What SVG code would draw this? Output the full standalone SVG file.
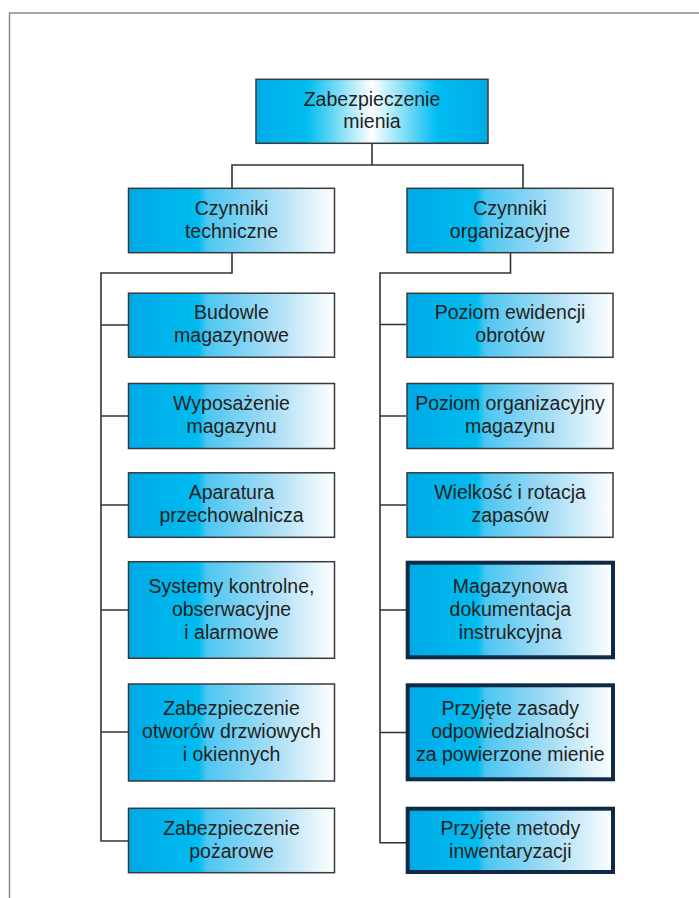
<svg xmlns="http://www.w3.org/2000/svg" width="699" height="898" viewBox="0 0 699 898">
  <defs>
    <linearGradient id="gSide" x1="0" y1="0" x2="1" y2="0">
      <stop offset="0" stop-color="#00a9e6"/>
      <stop offset="0.34" stop-color="#00bcf0"/>
      <stop offset="0.38" stop-color="#4cc6f1"/>
      <stop offset="0.7" stop-color="#a8ddf5"/>
      <stop offset="1" stop-color="#ffffff"/>
    </linearGradient>
    <linearGradient id="gTop" x1="0" y1="0" x2="1" y2="0">
      <stop offset="0" stop-color="#00ace8"/>
      <stop offset="0.22" stop-color="#00bcf0"/>
      <stop offset="0.5" stop-color="#ffffff"/>
      <stop offset="0.78" stop-color="#00bcf0"/>
      <stop offset="1" stop-color="#00ace8"/>
    </linearGradient>
  </defs>
  <style>
    .box { fill: url(#gSide); stroke: #3a3a3a; stroke-width: 1.5; }
    .top { fill: url(#gTop); stroke: #3a3a3a; stroke-width: 1.5; }
    .thick { fill: url(#gSide); stroke: #0e2a44; stroke-width: 4; }
    .lbl { font-family: "Liberation Sans", Arial, sans-serif; font-size: 19.5px; fill: #231f20; text-anchor: middle; }
    .conn { fill: none; stroke: #333333; stroke-width: 1.6; }
    .frame { fill: none; stroke: #8a8a8a; stroke-width: 1.5; }
  </style>
  <rect width="699" height="898" fill="#ffffff"/>
  <path class="frame" d="M9.5,898 V13 H699"/>

  <g id="connectors">
    <path class="conn" d="M372,143.3 V165 M232,188.3 V165 H523 V188.3"/>
    <path class="conn" d="M232,252.7 V273 H101 V841 H128.5 M101,325 H128.5 M101,416 H128.5 M101,505 H128.5 M101,610 H128.5 M101,732 H128.5"/>
    <path class="conn" d="M510.5,252.7 V273 H380 V842.7 H406 M380,324.5 H406 M380,416 H406 M380,505 H406 M380,610 H406 M380,732.5 H406"/>
  </g>

  <g id="n-root">
    <rect class="top" x="256" y="79.3" width="232" height="64"/>
    <text class="lbl" x="372" y="105.5">Zabezpieczenie</text>
    <text class="lbl" x="372" y="128">mienia</text>
  </g>

  <g id="n-tech">
    <rect class="box" x="128.5" y="188.3" width="206" height="64.4"/>
    <text class="lbl" x="231.5" y="214.5">Czynniki</text>
    <text class="lbl" x="231.5" y="237.5">techniczne</text>
  </g>
  <g id="n-org">
    <rect class="box" x="407" y="188.3" width="206" height="64.4"/>
    <text class="lbl" x="510" y="214.5">Czynniki</text>
    <text class="lbl" x="510" y="237.5">organizacyjne</text>
  </g>

  <g id="n-budowle">
    <rect class="box" x="128.5" y="293.2" width="206" height="64"/>
    <text class="lbl" x="231.5" y="319.2">Budowle</text>
    <text class="lbl" x="231.5" y="342.2">magazynowe</text>
  </g>
  <g id="n-wyposazenie">
    <rect class="box" x="128.5" y="383.5" width="206" height="65"/>
    <text class="lbl" x="231.5" y="410.2">Wyposażenie</text>
    <text class="lbl" x="231.5" y="433.2">magazynu</text>
  </g>
  <g id="n-aparatura">
    <rect class="box" x="128.5" y="472.8" width="206" height="64.5"/>
    <text class="lbl" x="231.5" y="499.2">Aparatura</text>
    <text class="lbl" x="231.5" y="522.2">przechowalnicza</text>
  </g>
  <g id="n-systemy">
    <rect class="box" x="128.5" y="561.7" width="206" height="96.6"/>
    <text class="lbl" x="231.5" y="592.7">Systemy kontrolne,</text>
    <text class="lbl" x="231.5" y="615.7">obserwacyjne</text>
    <text class="lbl" x="231.5" y="638.7">i alarmowe</text>
  </g>
  <g id="n-otwory">
    <rect class="box" x="128.5" y="684" width="206" height="97"/>
    <text class="lbl" x="231.5" y="715.2">Zabezpieczenie</text>
    <text class="lbl" x="231.5" y="738.2">otworów drzwiowych</text>
    <text class="lbl" x="231.5" y="761.2">i okiennych</text>
  </g>
  <g id="n-pozarowe">
    <rect class="box" x="128.5" y="808.3" width="206" height="64.4"/>
    <text class="lbl" x="231.5" y="834.7">Zabezpieczenie</text>
    <text class="lbl" x="231.5" y="857.7">pożarowe</text>
  </g>

  <g id="n-ewidencja">
    <rect class="box" x="407" y="293.3" width="206" height="64"/>
    <text class="lbl" x="510" y="319.2">Poziom ewidencji</text>
    <text class="lbl" x="510" y="342.2">obrotów</text>
  </g>
  <g id="n-poziom-org">
    <rect class="box" x="407" y="383.5" width="206" height="65"/>
    <text class="lbl" x="510" y="410.2">Poziom organizacyjny</text>
    <text class="lbl" x="510" y="433.2">magazynu</text>
  </g>
  <g id="n-wielkosc">
    <rect class="box" x="407" y="472.8" width="206" height="64.5"/>
    <text class="lbl" x="510" y="499.2">Wielkość i rotacja</text>
    <text class="lbl" x="510" y="522.2">zapasów</text>
  </g>
  <g id="n-dokumentacja">
    <rect class="thick" x="407.7" y="562.7" width="205.3" height="94.6"/>
    <text class="lbl" x="510.3" y="592.7">Magazynowa</text>
    <text class="lbl" x="510.3" y="615.7">dokumentacja</text>
    <text class="lbl" x="510.3" y="638.7">instrukcyjna</text>
  </g>
  <g id="n-zasady">
    <rect class="thick" x="407.7" y="685.3" width="205.3" height="94"/>
    <text class="lbl" x="510.3" y="715.2">Przyjęte zasady</text>
    <text class="lbl" x="510.3" y="738.2">odpowiedzialności</text>
    <text class="lbl" x="510.3" y="761.2">za powierzone mienie</text>
  </g>
  <g id="n-inwentaryzacja">
    <rect class="thick" x="407.7" y="808.7" width="205.3" height="63.3"/>
    <text class="lbl" x="510.3" y="834.7">Przyjęte metody</text>
    <text class="lbl" x="510.3" y="857.7">inwentaryzacji</text>
  </g>
</svg>
